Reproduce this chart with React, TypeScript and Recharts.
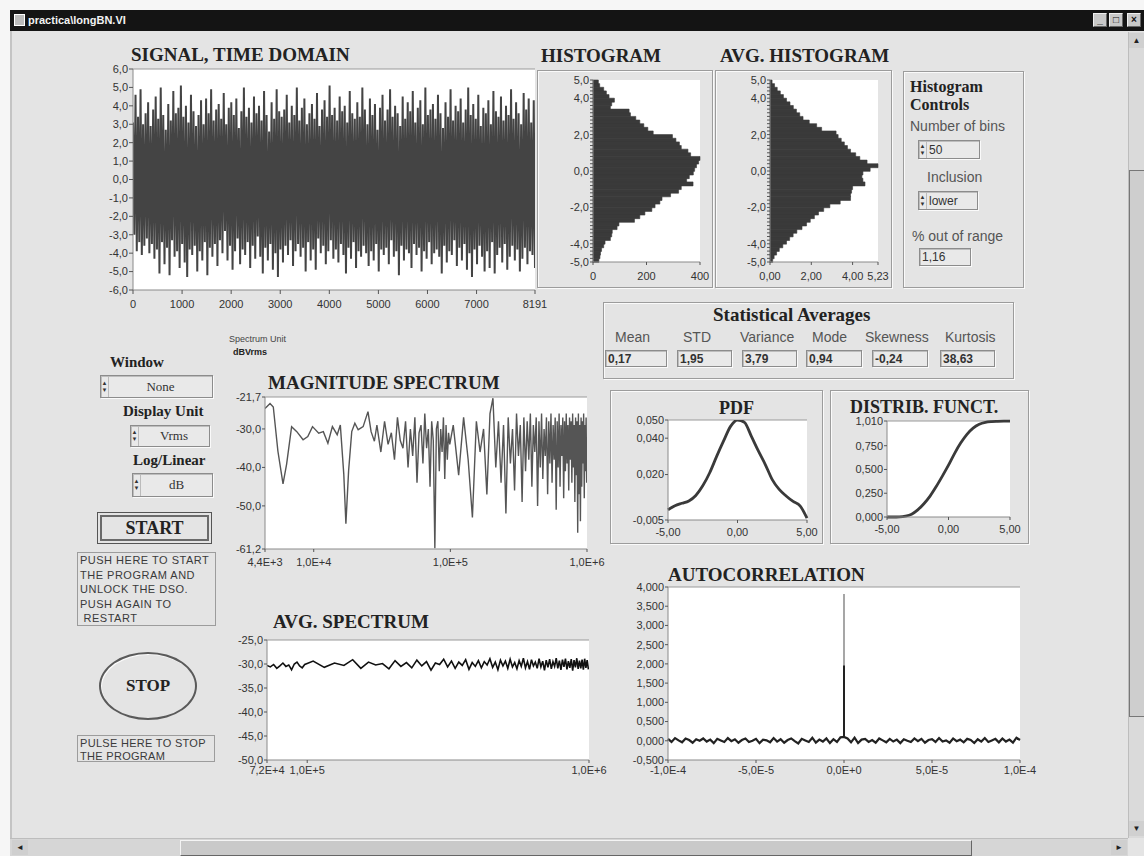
import React from "react";
import { LineChart, Line, BarChart, Bar, XAxis, YAxis, CartesianGrid, ReferenceLine } from "recharts";

const SANS = "'Liberation Sans', Arial, sans-serif";
const SERIF = "'Liberation Serif', 'Times New Roman', serif";

// ---------- data ----------
const signalHigh = [
  3.1, 4.6, 3.4, 4.9, 3.0, 3.6, 4.2, 2.9, 3.8, 4.5,
  3.3, 5.0, 3.5, 2.7, 4.1, 3.2, 4.8, 3.6, 3.9, 5.1,
  3.4, 4.0, 3.1, 4.6, 3.7, 2.9, 3.5, 4.3, 3.0, 4.4,
  3.6, 4.9, 3.2, 3.8, 4.1, 3.3, 4.7, 3.0, 3.9, 4.2,
  3.5, 4.4, 2.8, 3.7, 5.0, 3.4, 3.9, 3.1, 4.5, 3.6,
  4.0, 3.2, 4.8, 3.5, 2.6, 4.2, 3.3, 4.9, 3.7, 3.4,
  3.8, 4.6, 3.1, 4.0, 3.5, 5.0, 3.2, 3.9, 4.4, 3.0,
  3.6, 4.1, 3.3, 4.7, 2.9, 3.8, 4.3, 3.4, 5.1, 3.5,
  3.9, 3.2, 4.5, 3.7, 4.0, 3.1, 4.8, 3.6, 3.3, 4.2,
  3.4, 5.0, 3.8, 3.0, 4.4, 3.5, 4.1, 2.7, 3.9, 4.6,
  3.2, 3.8, 4.9, 3.4, 4.0, 3.6, 2.9, 4.5, 3.3, 4.2,
  3.7, 4.8, 3.1, 3.9, 4.3, 3.0, 5.0, 3.5, 3.8, 4.1,
  3.3, 4.6, 3.6, 2.8, 4.2, 3.4, 4.9, 3.2, 4.0, 3.7,
  4.4, 3.1, 3.8, 5.0, 3.5, 4.1, 3.3, 4.6, 2.9, 3.9,
  3.6, 4.3, 3.0, 4.8, 3.7, 3.4, 4.5, 3.2, 4.0, 3.5,
  4.9, 3.3, 4.2, 3.6, 3.0, 4.7, 3.8, 4.4, 3.1, 4.3,
];
const signalLow = [
  -3.0, -3.9, -3.4, -4.1, -3.6, -3.2, -4.0, -3.5, -4.3, -3.8,
  -5.1, -3.4, -4.6, -3.7, -5.2, -3.3, -4.2, -3.9, -4.8, -3.5,
  -4.5, -5.3, -3.8, -4.1, -3.6, -5.0, -3.9, -4.4, -3.4, -5.2,
  -3.7, -4.2, -3.5, -4.7, -3.3, -4.0, -2.8, -4.4, -3.6, -4.9,
  -3.9, -3.2, -4.6, -3.8, -4.1, -3.4, -4.8, -3.6, -4.3, -3.1,
  -4.2, -5.1, -3.7, -4.4, -3.5, -4.9, -4.0, -5.3, -3.8, -4.5,
  -3.6, -4.1, -3.3, -4.7, -3.9, -3.5, -4.2, -3.7, -5.0, -3.4,
  -4.4, -3.8, -4.9, -3.2, -4.0, -3.6, -4.6, -3.9, -3.3, -4.3,
  -3.8, -4.5, -3.5, -4.1, -5.1, -3.7, -4.3, -3.4, -4.8, -3.9,
  -4.2, -3.6, -4.0, -4.7, -3.9, -4.4, -3.5, -5.0, -3.8, -4.1,
  -3.7, -4.6, -3.3, -4.2, -3.9, -5.2, -3.6, -4.4, -3.8, -4.0,
  -4.8, -3.5, -4.1, -3.7, -5.0, -3.9, -4.3, -3.4, -4.6, -4.0,
  -3.8, -4.2, -5.1, -3.6, -4.5, -3.9, -4.1, -3.3, -4.7, -3.7,
  -4.4, -3.5, -4.9, -4.0, -5.3, -3.8, -4.6, -3.6, -4.2, -5.0,
  -3.9, -4.8, -3.4, -5.1, -4.1, -3.7, -4.5, -3.5, -4.9, -4.2,
  -3.6, -4.4, -3.8, -5.0, -4.3, -3.7, -4.6, -3.9, -4.1, -4.8,
];
const signalXTicks = [0, 1000, 2000, 3000, 4000, 5000, 6000, 7000, 8191];
const signalYTicks = [-6, -5, -4, -3, -2, -1, 0, 1, 2, 3, 4, 5, 6];

const histBins = [
  4.9, 4.7, 4.5, 4.3, 4.1, 3.9, 3.7, 3.5, 3.3, 3.1,
  2.9, 2.7, 2.5, 2.3, 2.1, 1.9, 1.7, 1.5, 1.3, 1.1,
  0.9, 0.7, 0.5, 0.3, 0.1, -0.1, -0.3, -0.5, -0.7, -0.9,
  -1.1, -1.3, -1.5, -1.7, -1.9, -2.1, -2.3, -2.5, -2.7, -2.9,
  -3.1, -3.3, -3.5, -3.7, -3.9, -4.1, -4.3, -4.5, -4.7, -4.9,
];
const histCounts = [
  20, 25, 40, 50, 60, 80, 70, 65, 135, 140,
  160, 175, 190, 205, 225, 297, 310, 323, 330, 355,
  365, 400, 395, 387, 380, 375, 360, 350, 374, 330,
  320, 290, 258, 250, 232, 220, 194, 175, 155, 97,
  90, 72, 70, 65, 45, 40, 32, 28, 26, 22,
];
const avgHistValues = [
  0.10, 0.22, 0.35, 0.50, 0.65, 0.80, 0.97, 1.13, 1.28, 1.44,
  1.60, 1.90, 2.26, 2.50, 3.20, 3.30, 3.45, 3.60, 3.75, 3.90,
  4.15, 4.35, 4.70, 5.23, 4.85, 4.50, 4.45, 4.50, 4.60, 4.00,
  3.95, 3.90, 3.90, 3.40, 2.90, 2.60, 2.35, 2.15, 1.95, 1.77,
  1.55, 1.30, 1.12, 0.95, 0.80, 0.62, 0.45, 0.32, 0.20, 0.13,
];
const histYTicks = [
  5, 4.8, 4.6, 4.4, 4.2, 4, 3.8, 3.6, 3.4, 3.2, 3, 2.8, 2.6, 2.4, 2.2, 2,
  1.8, 1.6, 1.4, 1.2, 1, 0.8, 0.6, 0.4, 0.2, 0, -0.2, -0.4, -0.6, -0.8, -1,
  -1.2, -1.4, -1.6, -1.8, -2, -2.2, -2.4, -2.6, -2.8, -3, -3.2, -3.4, -3.6,
  -3.8, -4, -4.2, -4.4, -4.6, -4.8, -5,
];
const histYLabels = [5, 4, 2, 0, -2, -4, -5];
const histXTicks = [0, 200, 400];
const avgHistXTicks = [0, 2, 4, 5.23];

const specKHz = [
  4.4, 4.79, 5.06, 5.47, 5.96, 6.33, 6.89, 7.52, 8.36, 9.05,
  9.8, 10.88, 11.76, 12.7, 13.7, 14.85, 15.66, 16.6, 17.2, 18.0,
  18.98, 20.0, 21.15, 23.0, 24.95, 26.3, 27.8,
  29, 31, 33, 35, 37, 39, 41, 43, 45, 47, 49, 51, 53, 55, 57, 59,
  61, 63, 65, 67, 69, 71, 73, 75, 77, 79, 81, 83, 85, 87, 89, 91,
  93, 95, 97, 99,
  105, 115, 125, 135, 145, 155, 165, 175, 185, 195,
  205, 215, 225, 235, 245, 255, 265, 275, 285, 295,
  305, 315, 325, 335, 345, 355, 365, 375, 385, 395,
  405, 415, 425, 435, 445, 455, 465, 475, 485, 495,
  505, 515, 525, 535, 545, 555, 565, 575, 585, 595,
  605, 615, 625, 635, 645, 655, 665, 675, 685, 695,
  705, 715, 725, 735, 745, 755, 765, 775, 785, 795,
  805, 815, 825, 835, 845, 855, 865, 875, 885, 895,
  905, 915, 925, 935, 945, 955, 965, 975, 985, 995,
];
const specDb = [
  -24.7, -23.4, -24.3, -35.8, -44.3, -39.2, -29.4, -30.7, -32.8, -32.0,
  -29.4, -31.1, -30.7, -33.7, -29.4, -31.5, -29.0, -41.8, -54.6, -40.9,
  -30.7, -28.5, -30.2, -29.4, -25.5, -30.7, -33.2,
  -29, -36, -28, -34, -31, -38, -27, -33, -35, -28, -40, -30, -37, -27, -44, -31,
  -29, -39, -26, -35, -30, -45, -28, -33, -61, -30, -28, -41, -30, -36, -27, -43,
  -29, -38, -31, -34,
  -29, -42, -27, -38, -53, -28, -36, -30, -47, -26,
  -22, -40, -28, -44, -29, -52, -27, -39, -30, -46,
  -26, -37, -29, -49, -27, -41, -28, -38, -26, -45,
  -29, -36, -27, -50, -28, -40, -26, -43, -30, -37,
  -27, -47, -28, -39, -26, -44, -29, -38, -27, -51,
  -28, -40, -26, -45, -29, -37, -27, -48, -28, -41,
  -26, -39, -29, -46, -27, -38, -28, -44, -26, -40,
  -29, -49, -27, -42, -28, -57, -26, -47, -29, -54,
  -27, -45, -28, -39, -26, -48, -29, -41, -27, -44,
];
const specXTicks = [4400, 10000, 100000, 1000000];
const specXLabels = ["4,4E+3", "1,0E+4", "1,0E+5", "1,0E+6"];
const specYTicks = [-61.2, -50, -40, -30, -21.7];

const avgKHz = [
  72, 74, 76, 78, 80, 82, 84, 86, 88, 90, 92, 94, 96, 98, 100,
  105, 115, 125, 135, 145, 155, 165, 175, 185, 195,
  205, 215, 225, 235, 245, 255, 265, 275, 285, 295,
  305, 315, 325, 335, 345, 355, 365, 375, 385, 395,
  405, 415, 425, 435, 445, 455, 465, 475, 485, 495,
  505, 515, 525, 535, 545, 555, 565, 575, 585, 595,
  605, 615, 625, 635, 645, 655, 665, 675, 685, 695,
  705, 715, 725, 735, 745, 755, 765, 775, 785, 795,
  805, 815, 825, 835, 845, 855, 865, 875, 885, 895,
  905, 915, 925, 935, 945, 955, 965, 975, 985, 995,
];
const avgDb = [
  -30.3, -30.6, -30.1, -30.9, -30.4, -29.8, -30.5, -30.2, -31.2, -30.0,
  -29.6, -30.4, -30.8, -30.1, -29.9,
  -29.4, -30.7, -29.8, -30.3, -29.1, -30.9, -29.6, -30.2, -29.9, -31.0,
  -29.3, -30.5, -29.7, -30.8, -29.2, -30.4, -29.5, -31.3, -29.8, -30.1,
  -29.0, -30.6, -29.4, -30.9, -29.6, -30.3, -29.1, -31.1, -29.7, -30.5,
  -29.3, -30.8, -29.5, -30.2, -28.9, -30.7, -29.6, -31.2, -29.2, -30.4,
  -29.4, -30.9, -29.0, -30.6, -29.7, -31.0, -29.3, -30.5, -28.8, -30.8,
  -29.5, -31.1, -29.1, -30.4, -29.6, -30.9, -28.9, -30.6, -29.4, -31.3,
  -29.2, -30.7, -29.0, -31.0, -29.5, -30.5, -28.8, -30.9, -29.3, -31.2,
  -29.1, -30.6, -28.9, -31.1, -29.4, -30.8, -29.0, -31.4, -29.2, -30.7,
  -28.8, -31.0, -29.3, -30.9, -29.1, -31.2, -28.9, -30.8, -29.2, -31.1,
];
const avgXTicks = [72000, 100000, 1000000];
const avgXLabels = ["7,2E+4", "1,0E+5", "1,0E+6"];
const avgYTicks = [-50, -45, -40, -35, -30, -25];

const pdfX = [-5, -4.5, -4, -3.5, -3, -2.5, -2, -1.5, -1, -0.5, 0, 0.5, 1, 1.5, 2, 2.5, 3, 3.5, 4, 4.5, 5];
const pdfY = [
  0.0006, 0.0028, 0.0042, 0.0055, 0.0085, 0.0138, 0.021, 0.030, 0.0385, 0.0465, 0.050,
  0.0487, 0.041, 0.033, 0.0255, 0.0172, 0.0118, 0.0082, 0.0052, 0.0028, -0.004,
];
const cdfY = [
  0, 0, 0.002, 0.01, 0.03, 0.075, 0.14, 0.22, 0.32, 0.43, 0.545,
  0.67, 0.78, 0.87, 0.935, 0.975, 0.995, 1.003, 1.006, 1.008, 1.009,
];
const pdfYTicks = [-0.005, 0.02, 0.04, 0.05];
const cdfYTicks = [0, 0.25, 0.5, 0.75, 1.01];
const probXTicks = [-5, 0, 5];

const acorrNoise = [
  0.05, -0.03, 0.07, 0.01, -0.04, 0.06, 0.02, -0.05, 0.04, 0.00,
  0.06, -0.02, 0.03, -0.06, 0.05, 0.01, -0.03, 0.07, -0.01, 0.04,
  -0.05, 0.02, 0.06, -0.03, 0.00, 0.05, -0.06, 0.03, 0.01, -0.04,
  0.07, -0.02, 0.04, -0.05, 0.02, 0.06, -0.01, -0.07, 0.05, 0.01,
  -0.03, 0.08, -0.05, 0.03, -0.02, 0.06, -0.06, 0.04, -0.03, 0.09,
  0.10,
  0.06, -0.04, 0.08, -0.06, 0.03, 0.05, -0.03, 0.02, -0.05, 0.06,
  0.01, -0.04, 0.05, -0.02, 0.03, -0.06, 0.04, 0.00, -0.03, 0.06,
  -0.01, 0.05, -0.05, 0.02, 0.04, -0.03, 0.07, -0.02, 0.01, -0.05,
  0.06, -0.01, 0.03, -0.04, 0.05, 0.02, -0.06, 0.04, -0.02, 0.07,
  -0.03, 0.01, 0.05, -0.04, 0.06, -0.02, 0.03, -0.05, 0.08, 0.02,
];
const acorrPeak = 3.82;
const acorrPeakInner = 1.96;
const acorrXTicks = [-0.0001, -0.00005, 0, 0.00005, 0.0001];
const acorrXLabels = ["-1,0E-4", "-5,0E-5", "0,0E+0", "5,0E-5", "1,0E-4"];
const acorrYTicks = [-0.5, 0, 0.5, 1, 1.5, 2, 2.5, 3, 3.5, 4];

const statLabels = ["Mean", "STD", "Variance", "Mode", "Skewness", "Kurtosis"];
const statValues = ["0,17", "1,95", "3,79", "0,94", "-0,24", "38,63"];

// ---------- tables ----------
const signalN = signalHigh.length * 2;
const signalData = signalHigh.flatMap((h, i) => [
  { t: (2 * i * 8191) / (signalN - 1), v: h },
  { t: ((2 * i + 1) * 8191) / (signalN - 1), v: signalLow[i] },
]);
const histData = histBins.map((b, i) => ({ bin: b, count: histCounts[i], avg: avgHistValues[i] }));
const specData = specKHz.map((f, i) => ({ f: f * 1000, db: specDb[i] }));
const avgData = avgKHz.map((f, i) => ({ f: f * 1000, db: avgDb[i] }));
const pdfData = pdfX.map((x, i) => ({ x, pdf: pdfY[i], cdf: cdfY[i] }));
const acorrCenter = 50;
const acorrData: any[] = [];
acorrNoise.forEach((v, i) => {
  const lag = (i - acorrCenter) * 0.000002;
  acorrData.push({ lag, v });
  if (i === acorrCenter) {
    acorrData.push({ lag, s: acorrPeak });
    acorrData.push({ lag, s: v, d: v });
    acorrData.push({ lag, d: acorrPeakInner });
  }
});

const comma = (d: number) => (v: number) => Number(v).toFixed(d).replace(".", ",");

const tickStyle = { fill: "#333", fontSize: 11, fontFamily: SANS };
const axisLine = { stroke: "#8a8a8a" };
const tickLine = { stroke: "#555" };
const isMajor = (v: number) => histYLabels.some((m) => Math.abs(m - v) < 1e-6);

function Title({ x, y, children, size = 19 }: { x: number; y: number; children: React.ReactNode; size?: number }) {
  return (
    <div style={{ position: "absolute", left: x, top: y, fontFamily: SERIF, fontWeight: 700, fontSize: size, color: "#222", whiteSpace: "nowrap", lineHeight: 1 }}>
      {children}
    </div>
  );
}

function Label({ x, y, children, size = 14, color = "#555", bold = false }: any) {
  return (
    <div style={{ position: "absolute", left: x, top: y, fontFamily: SANS, fontWeight: bold ? 700 : 400, fontSize: size, color, whiteSpace: "nowrap", lineHeight: 1 }}>
      {children}
    </div>
  );
}

function Frame({ x, y, w, h }: { x: number; y: number; w: number; h: number }) {
  return (
    <div style={{ position: "absolute", left: x, top: y, width: w, height: h, border: "1px solid #9c9c9c", boxShadow: "1px 1px 0 #fafafa, inset 1px 1px 0 #fafafa" }} />
  );
}

function Box({ x, y, w, h, text, spin = false, center = false, bold = false, serif = false }: any) {
  return (
    <div style={{ position: "absolute", left: x, top: y, width: w, height: h, border: "1px solid #8c8c8c", boxShadow: "inset 1px 1px 0 #bdbdbd, 1px 1px 0 #fafafa", background: "#e9e9e9", boxSizing: "border-box", display: "flex", alignItems: "center" }}>
      {spin && (
        <div style={{ width: 7, height: "100%", display: "flex", flexDirection: "column", justifyContent: "center", alignItems: "center", fontSize: 6, lineHeight: "7px", color: "#333", borderRight: "1px solid #bbb" }}>
          <span>▲</span>
          <span>▼</span>
        </div>
      )}
      <div style={{ flex: 1, textAlign: center ? "center" : "left", paddingLeft: center ? 0 : 2, fontFamily: serif ? SERIF : SANS, fontWeight: bold ? 700 : 400, fontSize: serif ? 13 : 12, color: "#333" }}>
        {text}
      </div>
    </div>
  );
}

function Abs({ x, y, children }: { x: number; y: number; children: React.ReactNode }) {
  return <div style={{ position: "absolute", left: x, top: y }}>{children}</div>;
}

export default function App() {
  return (
    <div style={{ position: "fixed", left: 0, top: 0, width: 1144, height: 856, background: "#f6f6f6", overflow: "hidden", fontFamily: SANS }}>
      {/* window body */}
      <div style={{ position: "absolute", left: 10, top: 10, width: 1134, height: 846, background: "#e4e4e4", borderLeft: "2px solid #c4c4c4" }} />
      {/* title bar */}
      <div style={{ position: "absolute", left: 10, top: 10, width: 1134, height: 21, background: "#141414" }} />
      <div style={{ position: "absolute", left: 14, top: 14, width: 9, height: 10, background: "#bbb", border: "1px solid #fff" }} />
      <Label x={28} y={15} size={11} color="#f2f2f2" bold>
        practica\longBN.VI
      </Label>
      {["_", "□", "×"].map((g, i) => (
        <div key={g} style={{ position: "absolute", left: 1093 + i * 16 + (i === 2 ? 2 : 0), top: 13, width: 14, height: 14, background: "#c8c8c8", border: "1px solid #f0f0f0", borderRightColor: "#666", borderBottomColor: "#666", boxSizing: "border-box", fontSize: 10, lineHeight: "12px", textAlign: "center", color: "#111", fontWeight: 700 }}>
          {g}
        </div>
      ))}
      {/* right scrollbar */}
      <div style={{ position: "absolute", left: 1128, top: 32, width: 16, height: 806, background: "#dadada", borderLeft: "1px solid #bdbdbd" }} />
      <div style={{ position: "absolute", left: 1129, top: 33, width: 15, height: 15, background: "#d0d0d0", fontSize: 8, textAlign: "center", lineHeight: "15px", color: "#222" }}>▲</div>
      <div style={{ position: "absolute", left: 1129, top: 170, width: 14, height: 545, background: "#cecece", borderLeft: "1px solid #777", borderTop: "1px solid #777", borderBottom: "1px solid #777" }} />
      <div style={{ position: "absolute", left: 1129, top: 821, width: 15, height: 15, background: "#d0d0d0", fontSize: 8, textAlign: "center", lineHeight: "15px", color: "#222" }}>▼</div>
      {/* bottom scrollbar */}
      <div style={{ position: "absolute", left: 10, top: 838, width: 1118, height: 18, background: "#d6d6d6", borderTop: "1px solid #bdbdbd" }} />
      <div style={{ position: "absolute", left: 12, top: 840, width: 16, height: 15, background: "#cfcfcf", fontSize: 8, textAlign: "center", lineHeight: "15px", color: "#222" }}>◄</div>
      <div style={{ position: "absolute", left: 180, top: 840, width: 790, height: 14, background: "#c9c9c9", borderLeft: "1px solid #f4f4f4", borderTop: "1px solid #f4f4f4", borderRight: "1px solid #666", borderBottom: "1px solid #666" }} />
      <div style={{ position: "absolute", left: 1111, top: 840, width: 16, height: 15, background: "#cfcfcf", fontSize: 8, textAlign: "center", lineHeight: "15px", color: "#222" }}>►</div>

      {/* SIGNAL, TIME DOMAIN */}
      <Title x={131} y={45}>SIGNAL, TIME DOMAIN</Title>
      <Abs x={90} y={60}>
        <LineChart width={470} height={255} data={signalData} margin={{ top: 9, right: 25, bottom: 0, left: 0 }}>
          <CartesianGrid horizontal={false} vertical={false} fill="#ffffff" stroke="none" />
          <XAxis type="number" dataKey="t" domain={[0, 8191]} ticks={signalXTicks} interval={0} height={25} tick={tickStyle} axisLine={axisLine} tickLine={tickLine} tickSize={4} tickMargin={6} allowDataOverflow />
          <YAxis type="number" domain={[-6, 6]} ticks={signalYTicks} interval={0} width={43} tick={tickStyle} axisLine={axisLine} tickLine={tickLine} tickSize={4} tickMargin={1} tickFormatter={comma(1)} />
          <ReferenceLine y={6} stroke="#9a9a9a" />
          <Line dataKey="v" stroke="#444" strokeWidth={2} dot={false} isAnimationActive={false} />
        </LineChart>
      </Abs>

      {/* HISTOGRAM */}
      <Title x={541} y={46}>HISTOGRAM</Title>
      <Frame x={537} y={70} w={174} h={216} />
      <Abs x={555} y={72}>
        <BarChart layout="vertical" width={165} height={214} data={histData} margin={{ top: 8, right: 20, bottom: 0, left: 0 }} barCategoryGap={0} barGap={0}>
          <CartesianGrid horizontal={false} vertical={false} fill="#ffffff" stroke="none" />
          <XAxis type="number" domain={[0, 400]} ticks={histXTicks} interval={0} height={24} tick={tickStyle} axisLine={axisLine} tickLine={tickLine} tickSize={3} tickMargin={7} />
          <YAxis type="number" dataKey="bin" domain={[-5, 5]} reversed ticks={histYTicks} interval={0} width={38} tick={tickStyle} axisLine={axisLine} tickLine={tickLine} tickSize={3} tickMargin={1}
            tickFormatter={(v: number) => (isMajor(v) ? comma(1)(v) : "")} />
          <Bar dataKey="count" fill="#3a3a3a" stroke="#3a3a3a" strokeWidth={0.6} isAnimationActive={false} />
        </BarChart>
      </Abs>

      {/* AVG. HISTOGRAM */}
      <Title x={720} y={46}>AVG. HISTOGRAM</Title>
      <Frame x={715} y={70} w={175} h={216} />
      <Abs x={732} y={72}>
        <BarChart layout="vertical" width={166} height={214} data={histData} margin={{ top: 8, right: 20, bottom: 0, left: 0 }} barCategoryGap={0} barGap={0}>
          <CartesianGrid horizontal={false} vertical={false} fill="#ffffff" stroke="none" />
          <XAxis type="number" domain={[0, 5.23]} ticks={avgHistXTicks} interval={0} height={24} tick={tickStyle} axisLine={axisLine} tickLine={tickLine} tickSize={3} tickMargin={7} tickFormatter={comma(2)} />
          <YAxis type="number" dataKey="bin" domain={[-5, 5]} reversed ticks={histYTicks} interval={0} width={38} tick={tickStyle} axisLine={axisLine} tickLine={tickLine} tickSize={3} tickMargin={1}
            tickFormatter={(v: number) => (isMajor(v) ? comma(1)(v) : "")} />
          <Bar dataKey="avg" fill="#3a3a3a" stroke="#3a3a3a" strokeWidth={0.6} isAnimationActive={false} />
        </BarChart>
      </Abs>

      {/* Histogram controls */}
      <Frame x={903} y={71} w={119} h={215} />
      <Title x={910} y={79} size={16}>Histogram</Title>
      <Title x={910} y={97} size={16}>Controls</Title>
      <Label x={910} y={119}>Number of bins</Label>
      <Box x={918} y={140} w={62} h={19} text="50" spin />
      <Label x={927} y={170}>Inclusion</Label>
      <Box x={918} y={191} w={60} h={19} text="lower" spin />
      <Label x={912} y={229}>% out of range</Label>
      <Box x={919} y={248} w={52} h={18} text="1,16" />

      {/* Statistical Averages */}
      <Frame x={603} y={302} w={409} h={75} />
      <Title x={713} y={305} size={19}>Statistical Averages</Title>
      {statLabels.map((l, i) => (
        <Label key={l} x={[615, 683, 740, 812, 865, 945][i]} y={330}>
          {l}
        </Label>
      ))}
      {statValues.map((v, i) => (
        <Box key={i} x={[605, 677, 742, 806, 872, 940][i]} y={350} w={[62, 55, 55, 56, 56, 55][i]} h={17} text={v} bold />
      ))}

      {/* left controls */}
      <Title x={110} y={355} size={15}>Window</Title>
      <Box x={100} y={375} w={113} h={23} text="None" spin center serif />
      <Title x={123} y={404} size={15}>Display Unit</Title>
      <Box x={130} y={425} w={80} h={22} text="Vrms" spin center serif />
      <Title x={133} y={453} size={15}>Log/Linear</Title>
      <Box x={132} y={473} w={81} h={24} text="dB" spin center serif />
      <div style={{ position: "absolute", left: 97, top: 512, width: 115, height: 32, border: "1px solid #555", boxSizing: "border-box", padding: 2 }}>
        <div style={{ width: "100%", height: "100%", border: "2px solid #6a6a6a", boxSizing: "border-box", display: "flex", alignItems: "center", justifyContent: "center", fontFamily: SERIF, fontWeight: 700, fontSize: 18, color: "#222" }}>
          START
        </div>
      </div>
      <div style={{ position: "absolute", left: 77, top: 552, width: 139, height: 74, border: "1px solid #9c9c9c", boxSizing: "border-box", padding: "0 0 0 2px", fontFamily: SANS, fontSize: 11, lineHeight: "14.5px", letterSpacing: 0.5, color: "#3a3a3a", whiteSpace: "nowrap", overflow: "hidden" }}>
        PUSH HERE TO START<br />THE PROGRAM AND<br />UNLOCK THE DSO.<br />PUSH AGAIN TO<br />&nbsp;RESTART
      </div>
      <div style={{ position: "absolute", left: 99, top: 652, width: 98, height: 68, borderRadius: "50%", border: "2px solid #5a5a5a", boxSizing: "border-box", boxShadow: "inset 1px 1px 0 #fafafa", display: "flex", alignItems: "center", justifyContent: "center", fontFamily: SERIF, fontWeight: 700, fontSize: 17, color: "#222" }}>
        STOP
      </div>
      <div style={{ position: "absolute", left: 77, top: 735, width: 138, height: 27, border: "1px solid #9c9c9c", boxSizing: "border-box", padding: "1px 0 0 2px", fontFamily: SANS, fontSize: 11, lineHeight: "12.5px", letterSpacing: 0.3, color: "#3a3a3a", whiteSpace: "nowrap", overflow: "hidden" }}>
        PULSE HERE TO STOP<br />THE PROGRAM
      </div>

      {/* MAGNITUDE SPECTRUM */}
      <Label x={229} y={335} size={9} color="#444">Spectrum Unit</Label>
      <Label x={233} y={348} size={9} color="#222" bold>dBVrms</Label>
      <Title x={268} y={373}>MAGNITUDE SPECTRUM</Title>
      <Abs x={225} y={389}>
        <LineChart width={385} height={185} data={specData} margin={{ top: 8, right: 23, bottom: 0, left: 0 }}>
          <CartesianGrid horizontal={false} vertical={false} fill="#ffffff" stroke="none" />
          <XAxis type="number" dataKey="f" scale="log" domain={[4400, 1000000]} ticks={specXTicks} interval={0} height={25} tick={tickStyle} axisLine={axisLine} tickLine={tickLine} tickSize={3} tickMargin={6}
            tickFormatter={(v: number, i: number) => specXLabels[i]} allowDataOverflow />
          <YAxis type="number" domain={[-61.2, -21.7]} ticks={specYTicks} interval={0} width={40} tick={tickStyle} axisLine={axisLine} tickLine={tickLine} tickSize={3} tickMargin={1} tickFormatter={comma(1)} allowDataOverflow />
          <ReferenceLine y={-21.7} stroke="#9a9a9a" />
          <Line dataKey="db" stroke="#555" strokeWidth={1.4} dot={false} isAnimationActive={false} />
        </LineChart>
      </Abs>

      {/* AVG. SPECTRUM */}
      <Title x={273} y={612}>AVG. SPECTRUM</Title>
      <Abs x={227} y={632}>
        <LineChart width={385} height={150} data={avgData} margin={{ top: 8, right: 23, bottom: 0, left: 0 }}>
          <CartesianGrid horizontal={false} vertical={false} fill="#ffffff" stroke="none" />
          <XAxis type="number" dataKey="f" scale="log" domain={[72000, 1000000]} ticks={avgXTicks} interval={0} height={22} tick={tickStyle} axisLine={axisLine} tickLine={tickLine} tickSize={3} tickMargin={3}
            tickFormatter={(v: number, i: number) => avgXLabels[i]} allowDataOverflow />
          <YAxis type="number" domain={[-50, -25]} ticks={avgYTicks} interval={0} width={40} tick={tickStyle} axisLine={axisLine} tickLine={tickLine} tickSize={3} tickMargin={1} tickFormatter={comma(1)} />
          <ReferenceLine y={-25} stroke="#9a9a9a" />
          <Line dataKey="db" stroke="#111" strokeWidth={1.6} dot={false} isAnimationActive={false} />
        </LineChart>
      </Abs>

      {/* PDF */}
      <Frame x={610} y={390} w={211} h={152} />
      <Title x={719} y={399} size={18}>PDF</Title>
      <Abs x={618} y={412}>
        <LineChart width={203} height={130} data={pdfData} margin={{ top: 8, right: 14, bottom: 0, left: 0 }}>
          <CartesianGrid horizontal={false} vertical={false} fill="#ffffff" stroke="none" />
          <XAxis type="number" dataKey="x" domain={[-5, 5]} ticks={probXTicks} interval={0} height={22} tick={tickStyle} axisLine={axisLine} tickLine={tickLine} tickSize={3} tickMargin={5} tickFormatter={comma(2)} />
          <YAxis type="number" domain={[-0.005, 0.05]} ticks={pdfYTicks} interval={0} width={50} tick={tickStyle} axisLine={axisLine} tickLine={tickLine} tickSize={3} tickMargin={1} tickFormatter={comma(3)} allowDataOverflow />
          <ReferenceLine y={0.05} stroke="#9a9a9a" />
          <Line dataKey="pdf" type="monotone" stroke="#3a3a3a" strokeWidth={2.8} dot={false} isAnimationActive={false} />
        </LineChart>
      </Abs>

      {/* DISTRIB. FUNCT. */}
      <Frame x={830} y={390} w={197} h={152} />
      <Title x={850} y={398} size={18}>DISTRIB. FUNCT.</Title>
      <Abs x={837} y={413}>
        <LineChart width={187} height={126} data={pdfData} margin={{ top: 8, right: 14, bottom: 0, left: 0 }}>
          <CartesianGrid horizontal={false} vertical={false} fill="#ffffff" stroke="none" />
          <XAxis type="number" dataKey="x" domain={[-5, 5]} ticks={probXTicks} interval={0} height={22} tick={tickStyle} axisLine={axisLine} tickLine={tickLine} tickSize={3} tickMargin={5} tickFormatter={comma(2)} />
          <YAxis type="number" domain={[0, 1.01]} ticks={cdfYTicks} interval={0} width={50} tick={tickStyle} axisLine={axisLine} tickLine={tickLine} tickSize={3} tickMargin={1} tickFormatter={comma(3)} />
          <ReferenceLine y={1.01} stroke="#9a9a9a" />
          <Line dataKey="cdf" type="monotone" stroke="#3a3a3a" strokeWidth={2.8} dot={false} isAnimationActive={false} />
        </LineChart>
      </Abs>

      {/* AUTOCORRELATION */}
      <Title x={668} y={565}>AUTOCORRELATION</Title>
      <Abs x={620} y={579}>
        <LineChart width={420} height={201} data={acorrData} margin={{ top: 8, right: 20, bottom: 0, left: 0 }}>
          <CartesianGrid horizontal={false} vertical={false} fill="#ffffff" stroke="none" />
          <XAxis type="number" dataKey="lag" domain={[-0.0001, 0.0001]} ticks={acorrXTicks} interval={0} height={20} tick={tickStyle} axisLine={axisLine} tickLine={tickLine} tickSize={3} tickMargin={3}
            tickFormatter={(v: number, i: number) => acorrXLabels[i]} />
          <YAxis type="number" domain={[-0.5, 4]} ticks={acorrYTicks} interval={0} width={48} tick={tickStyle} axisLine={axisLine} tickLine={tickLine} tickSize={3} tickMargin={1} tickFormatter={comma(3)} />
          <ReferenceLine y={4} stroke="#9a9a9a" />
          <Line dataKey="v" stroke="#222" strokeWidth={2.2} dot={false} connectNulls isAnimationActive={false} />
          <Line dataKey="s" stroke="#777" strokeWidth={1.3} dot={false} isAnimationActive={false} />
          <Line dataKey="d" stroke="#222" strokeWidth={2} dot={false} isAnimationActive={false} />
        </LineChart>
      </Abs>
    </div>
  );
}
